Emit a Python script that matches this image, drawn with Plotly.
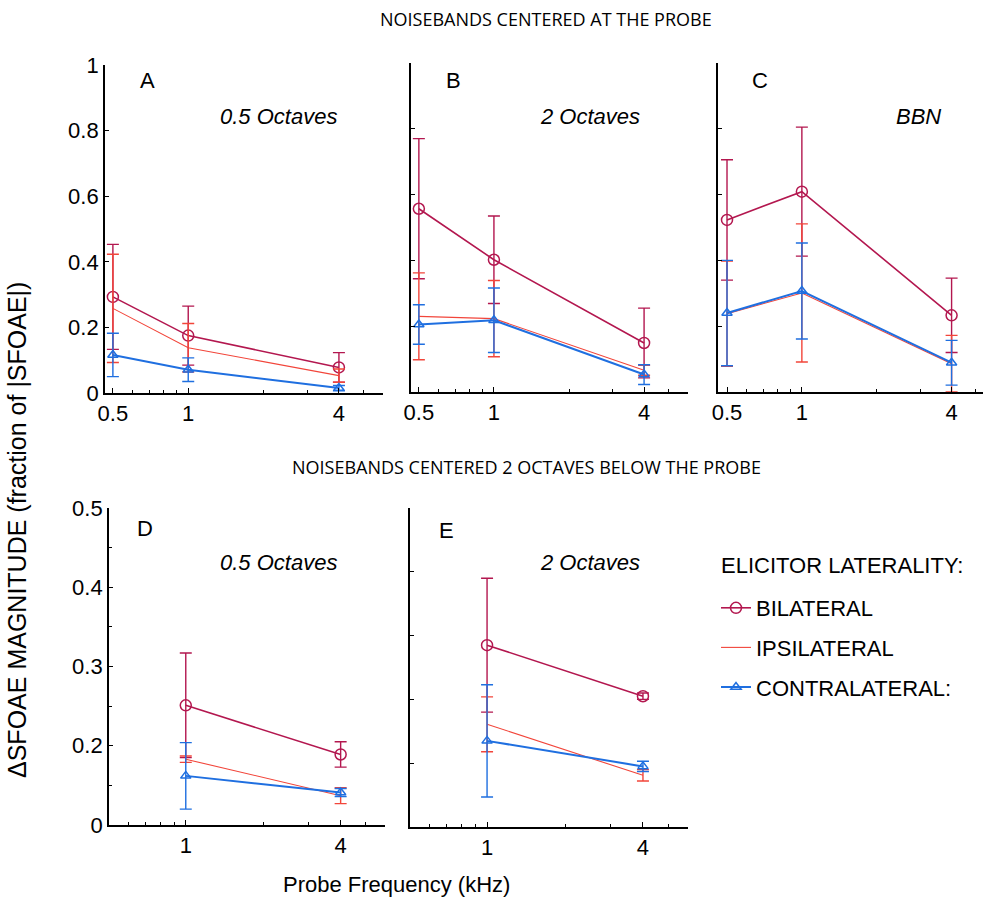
import plotly.graph_objects as go
import math

W, H = 985, 901

# ---------------- data ----------------
freq_top = [0.5, 1, 4]
freq_bot = [1, 4]

# Panel A: 0.5 octave noisebands centred at the probe
A_bil = [0.293, 0.175, 0.078]; A_bil_err = [0.16, 0.09, 0.045]
A_ips = [0.258, 0.138, 0.053]; A_ips_err = [0.165, 0.074, 0.02]
A_con = [0.116, 0.071, 0.015]; A_con_err = [0.066, 0.036, 0.008]

# Panel B: 2 octave noisebands centred at the probe
B_bil = [0.557, 0.402, 0.149]; B_bil_err = [0.213, 0.133, 0.106]
B_ips = [0.230, 0.223, 0.066]; B_ips_err = [0.132, 0.116, 0.015]
B_con = [0.205, 0.218, 0.053]; B_con_err = [0.060, 0.098, 0.030]

# Panel C: broadband noise
C_bil = [0.523, 0.609, 0.233]; C_bil_err = [0.183, 0.196, 0.113]
C_ips = [0.238, 0.301, 0.086]; C_ips_err = [0.160, 0.210, 0.086]
C_con = [0.240, 0.307, 0.089]; C_con_err = [0.160, 0.146, 0.068]

# Panel D: 0.5 octave noisebands 2 octaves below the probe
D_bil = [0.251, 0.189]; D_bil_err = [0.066, 0.016]
D_ips = [0.183, 0.137]; D_ips_err = [0.004, 0.010]
D_con = [0.162, 0.141]; D_con_err = [0.042, 0.005]

# Panel E: 2 octave noisebands 2 octaves below the probe
E_bil = [0.285, 0.205]; E_bil_err = [0.105, 0.005]
E_ips = [0.161, 0.081]; E_ips_err = [0.043, 0.009]
E_con = [0.135, 0.095]; E_con_err = [0.088, 0.008]

series_names = ["BILATERAL", "IPSILATERAL", "CONTRALATERAL:"]
top_yticks = [0, 0.2, 0.4, 0.6, 0.8, 1]
top_yticktext = ["0", "0.2", "0.4", "0.6", "0.8", "1"]
D_yticks = [0.1, 0.2, 0.3, 0.4, 0.5]
D_yticktext = ["0", "0.2", "0.3", "0.4", "0.5"]
E_yticks = [0.1, 0.2, 0.3, 0.4]

# ---------------- styling ----------------
COL_BIL = "#b3174f"
COL_IPS = "#f2453a"
COL_CON = "#1f6fe0"
FONT = "Liberation Sans, Arial, sans-serif"
FS = 22


def px_x(p):
    return p / W


def px_y(p):
    return 1 - p / H


fig = go.Figure()

panels = [
    ("A", freq_top, [(A_bil, A_bil_err), (A_ips, A_ips_err), (A_con, A_con_err)],
     (105, 383), (65, 393), (0.465, 6.0), (0, 1)),
    ("B", freq_top, [(B_bil, B_bil_err), (B_ips, B_ips_err), (B_con, B_con_err)],
     (411, 688), (63, 392), (0.465, 6.0), (0, 1)),
    ("C", freq_top, [(C_bil, C_bil_err), (C_ips, C_ips_err), (C_con, C_con_err)],
     (718, 983), (63, 392), (0.46, 5.35), (0, 1)),
    ("D", freq_bot, [(D_bil, D_bil_err), (D_ips, D_ips_err), (D_con, D_con_err)],
     (109, 385), (508, 825), (0.503, 5.95), (0.1, 0.5)),
    ("E", freq_bot, [(E_bil, E_bil_err), (E_ips, E_ips_err), (E_con, E_con_err)],
     (410, 688), (508, 827), (0.504, 5.97), (0, 0.5)),
]

styles = [
    dict(color=COL_BIL, width=1.6, symbol="circle-open", size=11, mode="lines+markers"),
    dict(color=COL_IPS, width=1.1, symbol=None, size=0, mode="lines"),
    dict(color=COL_CON, width=2.0, symbol="triangle-up-open", size=9, mode="lines+markers"),
]

minor_vals = [0.6, 0.7, 0.8, 0.9, 2, 3, 5]

for i, (name, xs, data, xd, yd, xr, yr) in enumerate(panels):
    idx = "" if i == 0 else str(i + 1)
    xa = "x" + idx
    ya = "y" + idx
    for j, ((vals, errs), st) in enumerate(zip(data, styles)):
        tr = dict(
            x=xs, y=vals, xaxis=xa, yaxis=ya,
            mode=st["mode"], name=series_names[j],
            line=dict(color=st["color"], width=st["width"]),
            error_y=dict(type="data", array=errs, visible=True,
                         color=st["color"], thickness=1.4, width=6),
            showlegend=(i == 0), legendgroup=series_names[j],
            cliponaxis=False,
        )
        if st["symbol"]:
            tr["marker"] = dict(symbol=st["symbol"], size=st["size"],
                                color=st["color"], line=dict(width=1.5, color=st["color"]))
        fig.add_trace(go.Scatter(**tr))

    xt = [0.5, 1, 4] if name in "ABC" else [1, 4]
    fig.layout["xaxis" + idx] = dict(
        domain=[px_x(xd[0]), px_x(xd[1])], anchor=ya, type="log",
        range=[math.log10(xr[0]), math.log10(xr[1])],
        tickvals=xt, ticktext=[str(v) for v in xt],
        ticks="inside", ticklen=5, tickwidth=1.3, tickcolor="black",
        showline=True, linecolor="black", linewidth=1.8,
        showgrid=False, zeroline=False, automargin=False,
        tickfont=dict(family=FONT, size=FS, color="black"),
        minor=dict(tickvals=minor_vals, ticks="inside", ticklen=3, tickcolor="black", tickwidth=1),
    )
    if name in "ABC":
        ytv, ytt = top_yticks, (top_yticktext if name == "A" else [""] * len(top_yticks))
        yminor = None
    elif name == "D":
        ytv, ytt = D_yticks, D_yticktext
        yminor = dict(tickvals=[0.15, 0.25, 0.35, 0.45], ticks="inside", ticklen=3,
                      tickcolor="black", tickwidth=1)
    else:
        ytv, ytt = E_yticks, [""] * len(E_yticks)
        yminor = None
    yax = dict(
        domain=[px_y(yd[1]), px_y(yd[0])], anchor=xa, range=list(yr),
        tickvals=ytv, ticktext=ytt,
        ticks="inside", ticklen=4, tickwidth=1.3, tickcolor="black",
        showline=True, linecolor="black", linewidth=1.8,
        showgrid=False, zeroline=False, automargin=False,
        tickfont=dict(family=FONT, size=FS, color="black"),
    )
    if yminor:
        yax["minor"] = yminor
    fig.layout["yaxis" + idx] = yax

ann = []
def add_text(x, y, text, size=FS, italic=False, family=FONT, angle=0, xanchor="center"):
    ann.append(dict(xref="paper", yref="paper", x=px_x(x), y=px_y(y), text=text,
                    showarrow=False, xanchor=xanchor, yanchor="middle", textangle=angle,
                    font=dict(family=family, size=size, color="black",
                              style="italic" if italic else "normal")))

TITLE_FONT = "Open Sans, Noto Sans, sans-serif"
add_text(546, 19, "NOISEBANDS CENTERED AT THE PROBE", size=18, family=TITLE_FONT)
add_text(290, 467, "NOISEBANDS CENTERED 2 OCTAVES BELOW THE PROBE", size=18, family=TITLE_FONT, xanchor="left")

add_text(147, 80, "A"); add_text(278, 117, "0.5 Octaves", italic=True)
add_text(453, 80, "B"); add_text(590, 117, "2 Octaves", italic=True)
add_text(760, 80, "C"); add_text(918, 117, "BBN", italic=True)
add_text(145, 528, "D"); add_text(278, 562, "0.5 Octaves", italic=True)
add_text(446, 530, "E"); add_text(590, 562, "2 Octaves", italic=True)

add_text(17, 530, "ΔSFOAE MAGNITUDE (fraction of |SFOAE|)", size=25, angle=-90)
add_text(396, 884, "Probe Frequency (kHz)", size=FS)
add_text(719, 565, "ELICITOR LATERALITY:", size=FS, xanchor="left")

fig.update_layout(
    width=W, height=H,
    margin=dict(l=0, r=0, t=0, b=0, autoexpand=False),
    paper_bgcolor="white", plot_bgcolor="white",
    annotations=ann,
    legend=dict(
        x=px_x(716), y=px_y(587), xanchor="left", yanchor="top",
        font=dict(family=FONT, size=FS, color="black"),
        tracegroupgap=8, bgcolor="rgba(0,0,0,0)", itemwidth=30,
    ),
)

fig.write_html("out.html", config={"displayModeBar": False},
               post_script="document.body.style.margin='0px';document.body.style.overflow='hidden';")
